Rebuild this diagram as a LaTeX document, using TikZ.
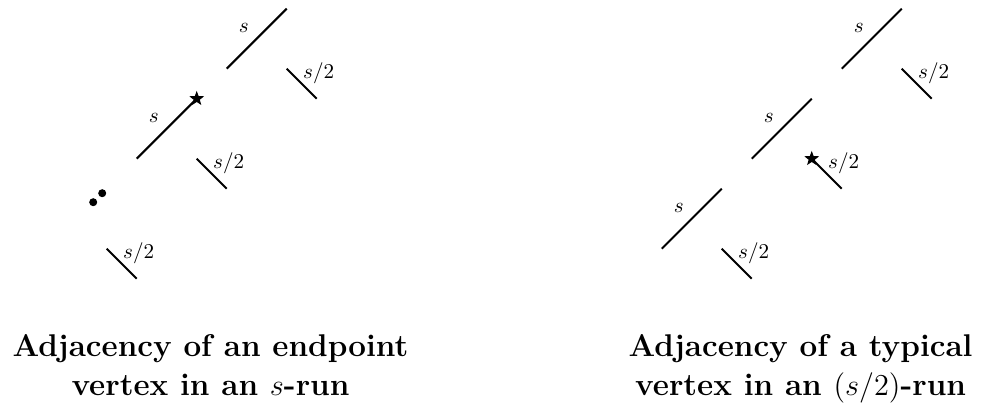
\documentclass[tikz,border=0pt]{standalone}
\usetikzlibrary{shapes.geometric,calc}
\begin{document}
\begin{tikzpicture}[x=0.5cm,y=0.5cm,
  seg/.style={line width=0.95pt},
  slab/.style={anchor=south east,inner sep=0pt,xshift=-3.6pt,yshift=2.6pt},
  hlab/.style={anchor=south west,inner sep=0pt,xshift=0.5pt},
  starmark/.style={star,star points=5,star point ratio=2.4,fill=black,draw=none,minimum size=7.4pt,inner sep=0pt},
  dotmark/.style={circle,fill=black,draw=none,minimum size=3.8pt,inner sep=0pt},
  captext/.style={anchor=base,inner sep=0pt,font=\fontsize{14.9}{18}\selectfont\bfseries}]
\useasboundingbox (-0.557,-0.277) rectangle (32.143,13.29);

% ---------- left diagram ----------
\coordinate (La1) at (7,11);  \coordinate (La2) at (9,13);
\coordinate (Lb1) at (9,11);  \coordinate (Lb2) at (10,10);
\coordinate (Lc1) at (4,8);   \coordinate (Lc2) at (6,10);
\coordinate (Ld1) at (6,8);   \coordinate (Ld2) at (7,7);
\coordinate (Le1) at (3,5);   \coordinate (Le2) at (4,4);

\draw[seg] (La1) -- (La2);
\draw[seg] (Lb1) -- (Lb2);
\draw[seg] (Lc1) -- (Lc2);
\draw[seg] (Ld1) -- (Ld2);
\draw[seg] (Le1) -- (Le2);

\node[slab] (lsa) at ($(La1)!0.5!(La2)$) {$s$};
\node[hlab] (lsb) at ($(Lb1)!0.5!(Lb2)$) {$s/2$};
\node[slab] (lsc) at ($(Lc1)!0.5!(Lc2)$) {$s$};
\node[hlab] (lsd) at ($(Ld1)!0.5!(Ld2)$) {$s/2$};
\node[hlab] (lse) at ($(Le1)!0.5!(Le2)$) {$s/2$};

\node[starmark] (lstar) at (Lc2) {};
\node[dotmark] (ldot1) at (2.85,6.85) {};
\node[dotmark] (ldot2) at (2.55,6.55) {};

% ---------- right diagram ----------
\coordinate (Ra1) at (27.5,11); \coordinate (Ra2) at (29.5,13);
\coordinate (Rb1) at (29.5,11); \coordinate (Rb2) at (30.5,10);
\coordinate (Rc1) at (24.5,8);  \coordinate (Rc2) at (26.5,10);
\coordinate (Rd1) at (26.5,8);  \coordinate (Rd2) at (27.5,7);
\coordinate (Re1) at (21.5,5);  \coordinate (Re2) at (23.5,7);
\coordinate (Rf1) at (23.5,5);  \coordinate (Rf2) at (24.5,4);

\draw[seg] (Ra1) -- (Ra2);
\draw[seg] (Rb1) -- (Rb2);
\draw[seg] (Rc1) -- (Rc2);
\draw[seg] (Rd1) -- (Rd2);
\draw[seg] (Re1) -- (Re2);
\draw[seg] (Rf1) -- (Rf2);

\node[slab] (rsa) at ($(Ra1)!0.5!(Ra2)$) {$s$};
\node[hlab] (rsb) at ($(Rb1)!0.5!(Rb2)$) {$s/2$};
\node[slab] (rsc) at ($(Rc1)!0.5!(Rc2)$) {$s$};
\node[hlab] (rsd) at ($(Rd1)!0.5!(Rd2)$) {$s/2$};
\node[slab] (rse) at ($(Re1)!0.5!(Re2)$) {$s$};
\node[hlab] (rsf) at ($(Rf1)!0.5!(Rf2)$) {$s/2$};

\node[starmark] (rstar) at (Rd1) {};

% ---------- captions ----------
\node[captext] (lcap1) at (6.46,1.4) {Adjacency of an endpoint};
\node[captext] (lcap2) at (6.46,0.123) {vertex in an $s$-run};
\node[captext] (rcap1) at (26.13,1.4) {Adjacency of a typical};
\node[captext] (rcap2) at (26.13,0.123) {vertex in an $(s/2)$-run};
\end{tikzpicture}
\end{document}
